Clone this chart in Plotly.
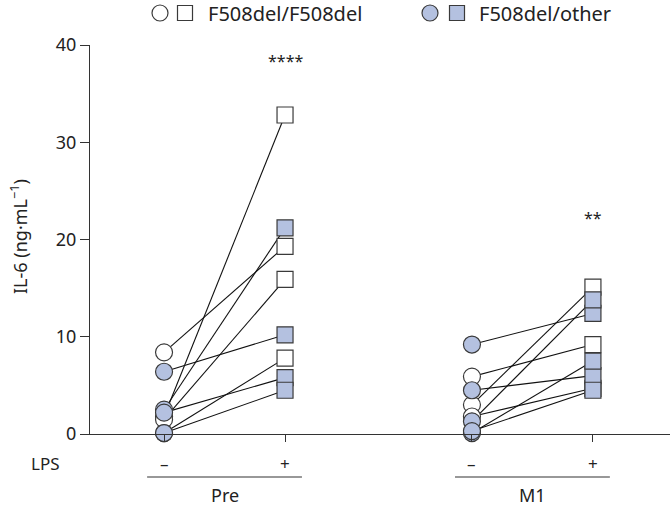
import plotly.graph_objects as go

# IL-6 values (ng/mL), paired per donor: (unstimulated, LPS)
pre_f508_minus = [8.4, 1.8, 1.5, 0.1]
pre_f508_plus = [19.3, 32.8, 15.9, 7.8]
pre_other_minus = [6.4, 2.5, 2.2, 0.1]
pre_other_plus = [10.2, 21.2, 5.8, 4.5]

m1_f508_minus = [5.9, 3.0, 1.8]
m1_f508_plus = [9.2, 15.1, 4.7]
m1_other_minus = [9.2, 4.5, 1.3, 0.1, 0.3]
m1_other_plus = [12.4, 6.0, 13.8, 7.5, 4.5]

groups = ["Pre", "M1"]
lps_labels = ["–", "+"]
stars = ["****", "**"]
star_heights = [38.4, 22.2]
legend_labels = ["F508del/F508del", "F508del/other"]

BLUE = "#b4c1e0"
EDGE = "#3a3a3a"
TXT = "#222222"
FONT = "Noto Sans"

group_x = [0.0, 2.545]   # x of the "–" column of each group
x_range = [-0.612, 4.182]

fig = go.Figure()

data = [
    (group_x[0], pre_f508_minus, pre_f508_plus, "white"),
    (group_x[0], pre_other_minus, pre_other_plus, BLUE),
    (group_x[1], m1_f508_minus, m1_f508_plus, "white"),
    (group_x[1], m1_other_minus, m1_other_plus, BLUE),
]

# connecting lines first
for gx, lo, hi, col in data:
    xs, ys = [], []
    for a, b in zip(lo, hi):
        xs += [gx, gx + 1, None]
        ys += [a, b, None]
    fig.add_trace(go.Scatter(x=xs, y=ys, mode="lines",
                             line=dict(color="#111111", width=1.1),
                             hoverinfo="skip", showlegend=False, cliponaxis=False))

# markers
for gx, lo, hi, col in data:
    fig.add_trace(go.Scatter(
        x=[gx] * len(lo), y=lo, mode="markers", cliponaxis=False, showlegend=False,
        marker=dict(symbol="circle", size=17, color=col, line=dict(color=EDGE, width=1.2))))
    fig.add_trace(go.Scatter(
        x=[gx + 1] * len(hi), y=hi, mode="markers", cliponaxis=False, showlegend=False,
        marker=dict(symbol="square", size=16, color=col, line=dict(color=EDGE, width=1.2))))

W, H = 670, 511
L, T, B = 90, 45, 77
pw, ph = W - L, H - T - B


def px_x(p):
    return (p - L) / pw


def px_y(p):
    return (H - B - p) / ph


annotations = []
shapes = []

# significance stars
for gx, s, h in zip(group_x, stars, star_heights):
    annotations.append(dict(x=gx + 1, y=h, text=s, showarrow=False, yanchor="middle",
                            font=dict(size=16, color=TXT)))

# LPS row, group underlines and names
annotations.append(dict(x=px_x(29), y=px_y(463), xref="paper", yref="paper", text="LPS",
                        showarrow=False, yanchor="middle", font=dict(size=17, color=TXT)))
for gx, g in zip(group_x, groups):
    for k, lab in enumerate(lps_labels):
        annotations.append(dict(x=gx + k, y=px_y(463), yref="paper", text=lab,
                                showarrow=False, yanchor="middle",
                                font=dict(size=17, color=TXT)))
    shapes.append(dict(type="line", xref="x", yref="paper", x0=gx - 0.14, x1=gx + 1.14,
                       y0=px_y(477), y1=px_y(477), line=dict(color="#333", width=1.2)))
    annotations.append(dict(x=gx + 0.5, y=px_y(495), yref="paper", text=g,
                            showarrow=False, yanchor="middle",
                            font=dict(size=18, color=TXT)))

# y-axis title
annotations.append(dict(x=px_x(19), y=px_y(237), xref="paper", yref="paper",
                        text="IL-6 (ng·mL<sup>−1</sup>)", textangle=-90, showarrow=False,
                        xanchor="center", yanchor="middle",
                        font=dict(size=18, color=TXT)))

# legend drawn by hand (two symbols per entry)
leg_y = px_y(13)
for (cx, sx, tx), lab, col in zip([(160, 185, 206), (430, 457, 477)], legend_labels,
                                  ["white", BLUE]):
    shapes.append(dict(type="circle", xref="paper", yref="paper", xsizemode="pixel",
                       ysizemode="pixel", xanchor=px_x(cx), yanchor=leg_y,
                       x0=-8, x1=8, y0=-8, y1=8, fillcolor=col,
                       line=dict(color=EDGE, width=1.2)))
    shapes.append(dict(type="rect", xref="paper", yref="paper", xsizemode="pixel",
                       ysizemode="pixel", xanchor=px_x(sx), yanchor=leg_y,
                       x0=-7.5, x1=7.5, y0=-7.5, y1=7.5, fillcolor=col,
                       line=dict(color=EDGE, width=1.2)))
    annotations.append(dict(x=px_x(tx), y=leg_y, xref="paper", yref="paper", text=lab,
                            xanchor="left", yanchor="middle", showarrow=False,
                            font=dict(size=20, color=TXT)))

fig.update_layout(
    width=W, height=H,
    margin=dict(l=L, r=0, t=T, b=B),
    plot_bgcolor="white", paper_bgcolor="white",
    font=dict(family=FONT, size=18, color=TXT),
    showlegend=False,
    annotations=annotations,
    shapes=shapes,
    xaxis=dict(range=x_range, showgrid=False, zeroline=False, showline=True,
               linecolor="#333", linewidth=1.2, ticks="outside", ticklen=7,
               tickcolor="#333", tickwidth=1.2,
               tickvals=[group_x[0], group_x[0] + 1, group_x[1], group_x[1] + 1],
               showticklabels=False),
    yaxis=dict(range=[0, 40], showgrid=False, zeroline=False, showline=True,
               linecolor="#333", linewidth=1.2, ticks="outside", ticklen=9,
               tickcolor="#333", tickwidth=1.2, tickvals=[0, 10, 20, 30, 40],
               tickfont=dict(size=18)),
)

# drop the browser's default body margin so the figure fills the window
fig.write_html("out.html", config={"displayModeBar": False},
               post_script="document.body.style.margin='0';")
